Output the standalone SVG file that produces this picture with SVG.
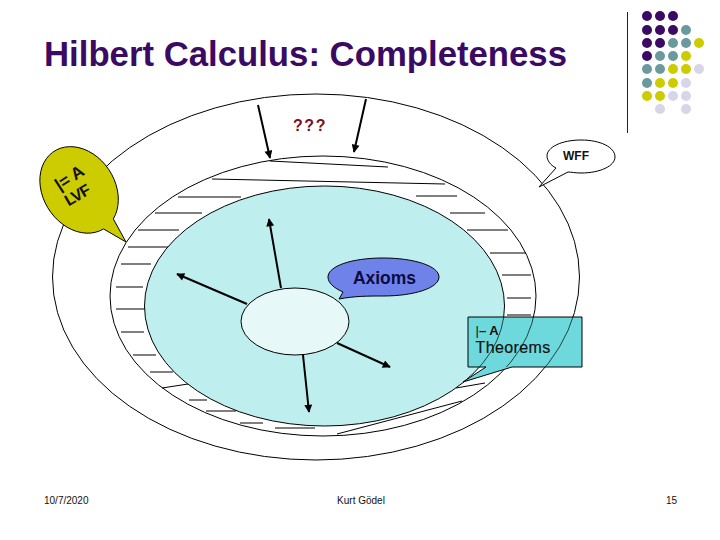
<svg xmlns="http://www.w3.org/2000/svg" width="720" height="540" viewBox="0 0 720 540">
<style>
text{font-family:"Liberation Sans",Arial,sans-serif}
.o{fill:none;stroke:#000;stroke-width:1}
.h{fill:none;stroke:#000;stroke-width:1}
.a{stroke:#000;stroke-width:2;fill:none;marker-end:url(#ah)}
.p{fill:#3b0a63}.g{fill:#6a9a9e}.y{fill:#cccc00}.l{fill:#d6d6e8}
.foot{font-size:10px;fill:#111}
</style>
<defs>
<marker id="ah" viewBox="0 0 10 10" refX="9" refY="5" markerWidth="4.500" markerHeight="4" orient="auto"><path d="M0 0L10 5L0 10z" fill="#000"/></marker>
<clipPath id="boxclip"><rect x="468" y="317" width="114" height="50"/></clipPath>
</defs>
<rect width="720" height="540" fill="#fff"/>
<g id="decor">
<line x1="627.5" y1="12" x2="627.5" y2="133" stroke="#222" stroke-width="1"/>
<g>
<circle class="p" cx="647" cy="16" r="5"/><circle class="p" cx="660" cy="16" r="5"/><circle class="p" cx="673" cy="16" r="5"/>
<circle class="p" cx="647" cy="30" r="5"/><circle class="p" cx="660" cy="30" r="5"/><circle class="p" cx="673" cy="30" r="5"/><circle class="g" cx="686" cy="30" r="5"/>
<circle class="p" cx="647" cy="43" r="5"/><circle class="p" cx="660" cy="43" r="5"/><circle class="g" cx="673" cy="43" r="5"/><circle class="g" cx="686" cy="43" r="5"/><circle class="y" cx="699" cy="43" r="5"/>
<circle class="p" cx="647" cy="56" r="5"/><circle class="g" cx="660" cy="56" r="5"/><circle class="g" cx="673" cy="56" r="5"/><circle class="y" cx="686" cy="56" r="5"/>
<circle class="g" cx="647" cy="69" r="5"/><circle class="g" cx="660" cy="69" r="5"/><circle class="y" cx="673" cy="69" r="5"/><circle class="y" cx="686" cy="69" r="5"/><circle class="l" cx="699" cy="69" r="5"/>
<circle class="g" cx="647" cy="83" r="5"/><circle class="y" cx="660" cy="83" r="5"/><circle class="y" cx="673" cy="83" r="5"/><circle class="l" cx="686" cy="83" r="5"/>
<circle class="y" cx="647" cy="96" r="5"/><circle class="y" cx="660" cy="96" r="5"/><circle class="l" cx="673" cy="96" r="5"/><circle class="l" cx="686" cy="96" r="5"/>
<circle class="l" cx="660" cy="109" r="5"/><circle class="l" cx="686" cy="109" r="5"/>
</g>
</g>
<text id="title" x="44" y="66" font-size="34.800" font-weight="bold" fill="#3b0a63" textLength="523" lengthAdjust="spacingAndGlyphs">Hilbert Calculus: Completeness</text>
<g id="outer"><ellipse class="o" cx="316" cy="277" rx="263.500" ry="183"/></g>
<g id="middle"><ellipse class="o" cx="323" cy="296" rx="213" ry="140"/></g>
<g id="hatching" class="h">
<path d="M270 161L388 167M212 179L445 184M178 197H241M155 213H202M138 230H179M128 247H168M121 264H151M416 196H457M450 213H485M467 230H508M490 253H526"/>
<path d="M116 287H143M116 309H145M121 332H144M133 355H156M150 372H173M162 388L188 384M189 400H207M206 411H236M240 423H263M275 428H315M337 434L462 401M456 388L485 383M502 275H531M507 298H531M507 315H531"/>
</g>
<g id="inner"><ellipse cx="324.500" cy="306" rx="180" ry="120" fill="#bfeeee" stroke="#000"/></g>
<g id="core"><ellipse cx="295" cy="321.500" rx="54" ry="33.500" fill="#e6f8f8" stroke="#000"/></g>
<g id="connectors">
<line class="a" x1="258" y1="105" x2="270" y2="158"/>
<line class="a" x1="366" y1="99" x2="354" y2="152"/>
<line class="a" x1="281" y1="288" x2="269" y2="219"/>
<line class="a" x1="247" y1="304" x2="177" y2="274"/>
<line class="a" x1="337" y1="343" x2="390" y2="367"/>
<line class="a" x1="303" y1="355" x2="309" y2="412"/>
</g>
<g id="axioms">
<path d="M339 299L343 292C334 288 328 283 328 277C328 266 352 258 383 258C414 258 439 266 439 277C439 288 414 296 383 296C368 296 355 296 339 299Z" fill="#6f82ea" stroke="#000"/>
<text x="384.500" y="284" font-size="17.500" font-weight="bold" text-anchor="middle" fill="#0c0c40">Axioms</text>
</g>
<g id="question"><text x="310" y="131" font-size="16" font-weight="bold" text-anchor="middle" fill="#7a1020" letter-spacing="1.500">???</text></g>
<g id="wff">
<path d="M539 187L556 168C550 165 547 160 547 156C547 147 562 140 581 140C600 140 615 147 615 157C615 166 600 173 581 173C575 173 571 172 568 172Z" fill="#fff" stroke="#000"/>
<text x="576" y="160" font-size="12" font-weight="bold" text-anchor="middle" fill="#111">WFF</text>
</g>
<g id="lvf">
<path d="M126 242L103.500 228.900A36 46 -33 1 1 113.300 218.900Z" fill="#cccc00" stroke="#000"/>
<g fill="#111" font-weight="bold">
<text transform="translate(59.500 191) rotate(-33)" font-size="17">|= A</text>
<text transform="translate(68.500 206.500) rotate(-30)" font-size="16" letter-spacing="-1">LVF</text>
</g>
</g>
<g id="theorems">
<path d="M468 317H582V367H512L463 382L486 367H468Z" fill="#6ed9dc" stroke="#000"/>
<g clip-path="url(#boxclip)" fill="none" stroke="#000" stroke-width=".7">
<ellipse cx="316" cy="277" rx="263.500" ry="183"/>
<ellipse cx="323" cy="296" rx="213" ry="140"/>
<ellipse cx="324.500" cy="306" rx="180" ry="120"/>
</g>
<text x="475.500" y="335" font-size="13" fill="#111"><tspan>|</tspan><tspan font-weight="bold">– A</tspan></text>
<text x="475.500" y="353" font-size="16" letter-spacing=".4" fill="#111" stroke="#111" stroke-width=".2">Theorems</text>
</g>
<g id="footer">
<text class="foot" x="44" y="504">10/7/2020</text>
<text class="foot" x="361" y="504" text-anchor="middle">Kurt Gödel</text>
<text class="foot" x="677" y="504" text-anchor="end">15</text>
</g>
</svg>
